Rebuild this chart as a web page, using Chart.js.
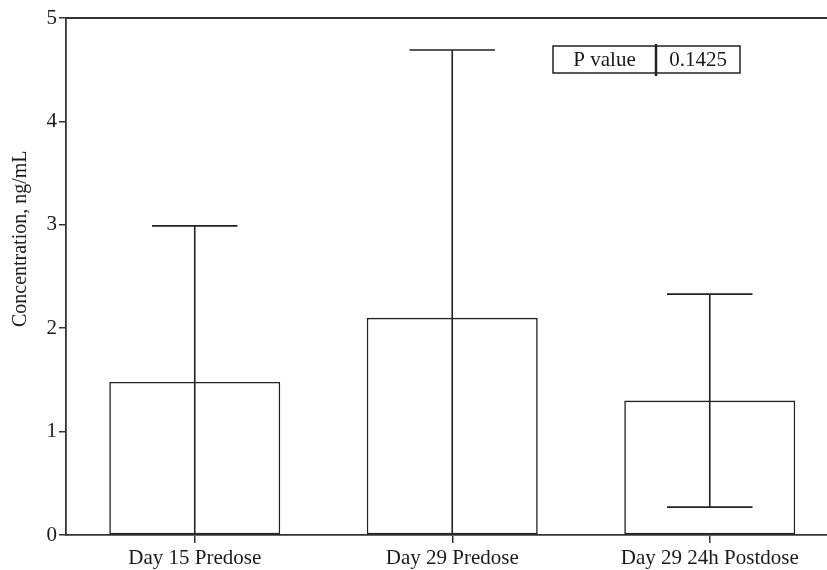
<!DOCTYPE html>
<html>
<head>
<meta charset="utf-8">
<script src="https://cdn.jsdelivr.net/npm/chart.js@4.4.1/dist/chart.umd.min.js"></script>
<style>
  html, body { margin: 0; padding: 0; background: #fff; overflow: hidden; }
  #wrap { width: 841px; height: 570px; position: relative; }
</style>
</head>
<body>
<div id="wrap"><canvas id="c"></canvas></div>
<script>
// ---- data ----
const categories = ["Day 15 Predose", "Day 29 Predose", "Day 29 24h Postdose"];
const meanValues = [1.48, 2.10, 1.30];
const sdValues = [1.51, 2.59, 1.03];
const yTicks = [0, 1, 2, 3, 4, 5];
const yTitle = "Concentration, ng/mL";
const pLabel = "P value";
const pValue = "0.1425";

const INK = "#1a1a1a";
const SERIF = "'Liberation Serif', 'Times New Roman', serif";

const errorBarPlugin = {
  id: "errorBars",
  afterDatasetsDraw(chart) {
    const ctx = chart.ctx;
    const meta = chart.getDatasetMeta(0);
    const ys = chart.scales.y;
    const area = chart.chartArea;
    ctx.save();
    ctx.beginPath();
    ctx.rect(area.left, area.top - 2, area.right - area.left, area.bottom - area.top + 2);
    ctx.clip();
    ctx.strokeStyle = "#222";
    ctx.lineWidth = 1.6;
    meta.data.forEach((bar, i) => {
      const hi = ys.getPixelForValue(meanValues[i] + sdValues[i]);
      const lo = ys.getPixelForValue(meanValues[i] - sdValues[i]);
      const half = bar.width * 0.25;
      ctx.beginPath();
      ctx.moveTo(bar.x, hi);
      ctx.lineTo(bar.x, lo);
      ctx.moveTo(bar.x - half, hi);
      ctx.lineTo(bar.x + half, hi);
      ctx.moveTo(bar.x - half, lo);
      ctx.lineTo(bar.x + half, lo);
      ctx.stroke();
    });
    ctx.restore();
  }
};

const framePlugin = {
  id: "frame",
  afterDraw(chart) {
    const ctx = chart.ctx;
    const a = chart.chartArea;
    ctx.save();
    ctx.strokeStyle = "#333";
    ctx.lineWidth = 1.8;
    ctx.beginPath();
    ctx.moveTo(a.left, a.top);
    ctx.lineTo(a.right, a.top);
    ctx.lineTo(a.right, a.bottom);
    ctx.stroke();

    // y-axis title
    ctx.fillStyle = INK;
    ctx.font = "20px " + SERIF;
    ctx.textAlign = "center";
    ctx.textBaseline = "middle";
    ctx.translate(a.left - 45, a.top + (a.bottom - a.top) * 0.427);
    ctx.rotate(-Math.PI / 2);
    ctx.fillText(yTitle, 0, 0);
    ctx.restore();

    // P value box
    ctx.save();
    const bx = a.left + 487, by = a.top + 28, bw1 = 103, bw2 = 84, bh = 27;
    ctx.fillStyle = "#fff";
    ctx.fillRect(bx, by, bw1 + bw2, bh);
    ctx.strokeStyle = "#222";
    ctx.lineWidth = 1.5;
    ctx.strokeRect(bx, by, bw1 + bw2, bh);
    ctx.lineWidth = 2.5;
    ctx.beginPath();
    ctx.moveTo(bx + bw1, by - 2);
    ctx.lineTo(bx + bw1, by + bh + 3);
    ctx.stroke();
    ctx.fillStyle = INK;
    ctx.font = "21px " + SERIF;
    ctx.textAlign = "center";
    ctx.textBaseline = "middle";
    ctx.fillText(pLabel, bx + bw1 / 2, by + bh / 2 + 1);
    ctx.fillText(pValue, bx + bw1 + bw2 / 2, by + bh / 2 + 1);
    ctx.restore();
  }
};

new Chart(document.getElementById("c"), {
  type: "bar",
  data: {
    labels: categories,
    datasets: [{
      data: meanValues,
      backgroundColor: "#fff",
      borderColor: "#222",
      borderWidth: 1.6,
      borderSkipped: false,
      categoryPercentage: 1.0,
      barPercentage: 0.664
    }]
  },
  options: {
    responsive: true,
    maintainAspectRatio: false,
    animation: false,
    devicePixelRatio: 1,
    layout: { padding: { top: 18, right: 2.5, left: 0, bottom: 0 } },
    plugins: { legend: { display: false }, tooltip: { enabled: false } },
    scales: {
      x: {
        offset: true,
        afterFit(s) { s.height = 35; },
        border: { display: true, color: "#333", width: 1.8 },
        grid: { display: true, offset: false, drawOnChartArea: false, drawTicks: true, tickLength: 8, color: "#333", lineWidth: 1.5 },
        ticks: { color: INK, font: { family: SERIF, size: 21 }, padding: 3, maxRotation: 0 }
      },
      y: {
        min: yTicks[0],
        max: yTicks[yTicks.length - 1],
        afterFit(s) { s.width = 66; },
        afterBuildTicks(s) { s.ticks = yTicks.map(v => ({ value: v })); },
        border: { display: true, color: "#333", width: 1.8 },
        grid: { display: true, drawOnChartArea: false, drawTicks: true, tickLength: 7, color: "#333", lineWidth: 1.5 },
        ticks: { color: INK, font: { family: SERIF, size: 21 }, padding: 2 }
      }
    }
  },
  plugins: [errorBarPlugin, framePlugin]
});
</script>
</body>
</html>
